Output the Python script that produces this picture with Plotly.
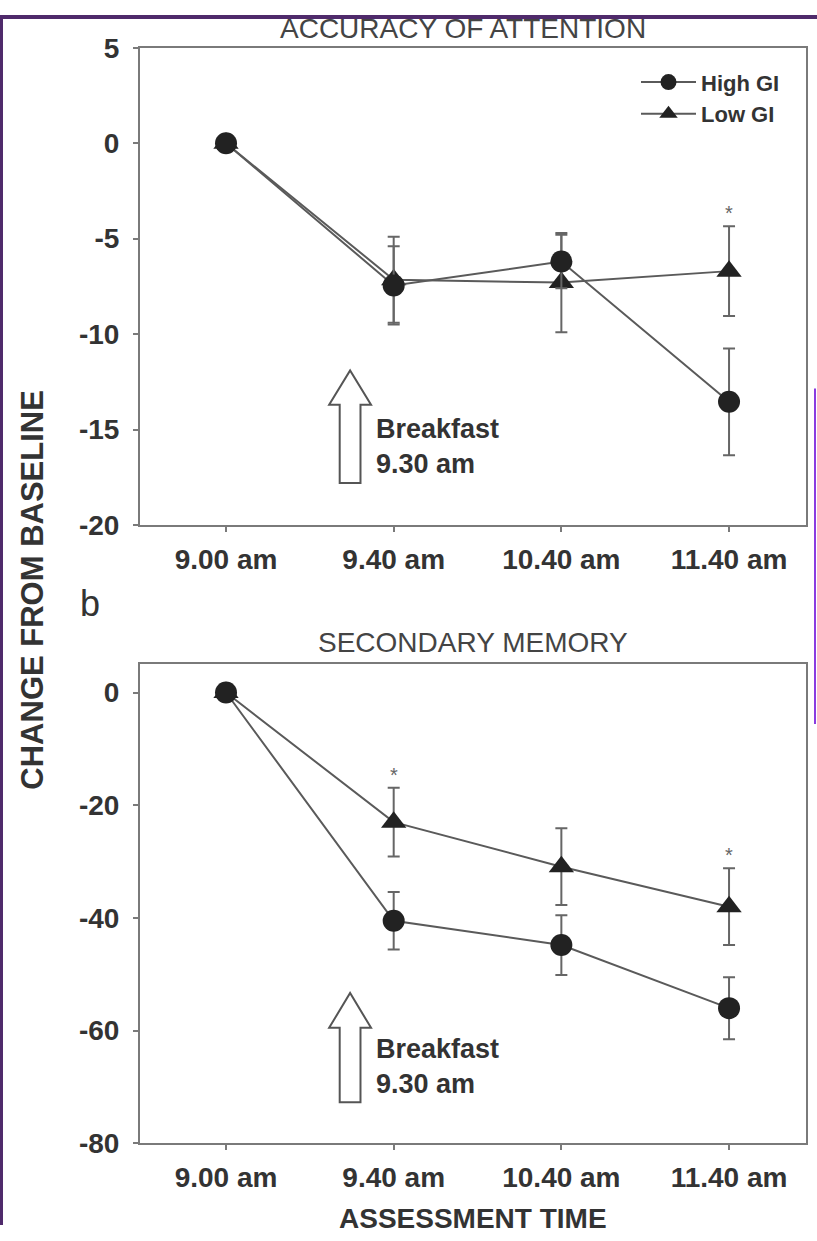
import plotly.graph_objects as go

# ---------------- data ----------------
times = ["9.00 am", "9.40 am", "10.40 am", "11.40 am"]
xpos = [0, 1, 2, 3]

# Panel a: accuracy of attention
att_high = [0, -7.45, -6.2, -13.55]
att_high_err = [0, 2.05, 1.4, 2.8]
att_low = [0, -7.15, -7.3, -6.7]
att_low_err = [0, 2.25, 2.6, 2.35]
att_sig = [False, False, False, True]

# Panel b: secondary memory
mem_high = [0, -40.5, -44.8, -56.0]
mem_high_err = [0, 5.1, 5.3, 5.5]
mem_low = [0, -23.0, -30.9, -38.0]
mem_low_err = [0, 6.1, 6.8, 6.8]
mem_sig = [False, True, False, True]

att_ticks = [5, 0, -5, -10, -15, -20]
att_labels = ["5", "0", "-5", "-10", "-15", "-20"]
mem_ticks = [0, -20, -40, -60, -80]
mem_labels = ["0", "-20", "-40", "-60", "-80"]

W, H = 817, 1241
FONT = "Liberation Sans, Arial, sans-serif"
LINE = "#5a5a5a"
MARK = "#222222"
AXC = "#7a7a7a"


def Y(y):
    """vertical page position -> paper fraction (compensates the capture offset)"""
    return 1 - ((y - 13) / 0.979) / H


fig = go.Figure()

def add_panel(xa, ya, high, high_err, low, low_err, showlegend):
    fig.add_trace(go.Scatter(
        x=xpos, y=low, name="Low GI", mode="lines+markers",
        xaxis=xa, yaxis=ya, legendrank=2, showlegend=showlegend,
        line=dict(color=LINE, width=2),
        marker=dict(symbol="triangle-up", size=22, color=MARK),
        error_y=dict(type="data", array=low_err, color="#666666", thickness=2, width=6),
    ))
    fig.add_trace(go.Scatter(
        x=xpos, y=high, name="High GI", mode="lines+markers",
        xaxis=xa, yaxis=ya, legendrank=1, showlegend=showlegend,
        line=dict(color=LINE, width=2),
        marker=dict(symbol="circle", size=22, color=MARK),
        error_y=dict(type="data", array=high_err, color="#666666", thickness=2, width=6),
    ))

add_panel("x", "y", att_high, att_high_err, att_low, att_low_err, True)
add_panel("x2", "y2", mem_high, mem_high_err, mem_low, mem_low_err, False)

xdom = [140 / W, 806 / W]
ya_dom = [Y(525), Y(46)]
yb_dom = [Y(1146), Y(665)]
xr = [-0.513, 3.459]

tickfont = dict(family=FONT, size=28, color="#333333", weight=700)
common_x = dict(
    domain=xdom, range=xr, tickmode="array", tickvals=xpos, ticktext=times,
    showline=True, linecolor=AXC, linewidth=2, mirror=True,
    ticks="outside", ticklen=5, tickcolor=AXC, tickwidth=2,
    showgrid=False, zeroline=False, tickfont=tickfont, ticklabelstandoff=3,
    fixedrange=True,
)
common_y = dict(
    showline=True, linecolor=AXC, linewidth=2, mirror=True,
    ticks="outside", ticklen=5, tickcolor=AXC, tickwidth=2,
    showgrid=False, zeroline=False, tickfont=tickfont, ticklabelstandoff=8,
    fixedrange=True,
)

fig.update_layout(
    width=W, height=H,
    margin=dict(l=0, r=0, t=0, b=0),
    paper_bgcolor="white", plot_bgcolor="white",
    xaxis=dict(anchor="y", **common_x),
    xaxis2=dict(anchor="y2", **common_x),
    yaxis=dict(domain=ya_dom, range=[-20, 5], tickmode="array", tickvals=att_ticks,
               ticktext=att_labels, anchor="x", **common_y),
    yaxis2=dict(domain=yb_dom, range=[-80, 5], tickmode="array", tickvals=mem_ticks,
                ticktext=mem_labels, anchor="x2", **common_y),
    showlegend=True,
    legend=dict(x=636 / W, y=1 - 47.5 / H, xanchor="left", yanchor="top",
                bgcolor="rgba(0,0,0,0)", font=dict(family=FONT, size=22, color="#333333", weight=700),
                tracegroupgap=0, itemwidth=55),
)

annos = []
def pa(text, x, y, size, weight=400, color="#333333", **kw):
    annos.append(dict(text=text, x=x / W, y=Y(y), xref="paper", yref="paper",
                      xanchor=kw.pop("xanchor", "center"), yanchor=kw.pop("yanchor", "middle"),
                      showarrow=False, font=dict(family=FONT, size=size, color=color, weight=weight), **kw))

pa("ACCURACY OF ATTENTION", 463, 27, 28, color="#444444")
pa("SECONDARY MEMORY", 473, 643, 28, color="#444444")
pa("b", 78, 604, 36, xanchor="left")
pa("ASSESSMENT TIME", 473, 1221, 28, weight=700)
pa("CHANGE FROM BASELINE", 33, 590, 31, weight=700, textangle=-90)

# significance asterisks
for xs, ys, es, sig, xr_, yr_ in [(xpos, att_low, att_low_err, att_sig, "x", "y"),
                                 (xpos, mem_low, mem_low_err, mem_sig, "x2", "y2")]:
    for xi, yi, ei, s in zip(xs, ys, es, sig):
        if s:
            annos.append(dict(text="*", x=xi, y=yi + ei, xref=xr_, yref=yr_, showarrow=False,
                              yanchor="bottom", yshift=0,
                              font=dict(family=FONT, size=20, color="#666666")))

# breakfast labels
annos.append(dict(text="<b>Breakfast<br>9.30 am</b>", x=0.88, y=-15.9, xref="x", yref="y",
                  xanchor="left", yanchor="middle", align="left", showarrow=False,
                  font=dict(family=FONT, size=27, color="#333333")))
annos.append(dict(text="<b>Breakfast<br>9.30 am</b>", x=0.88, y=-66.3, xref="x2", yref="y2",
                  xanchor="left", yanchor="middle", align="left", showarrow=False,
                  font=dict(family=FONT, size=27, color="#333333")))
fig.update_layout(annotations=annos)

# hollow arrows (decoration)
def arrow_path(xc, top, base, bottom, hw, bw):
    return (f"M {xc-bw} {bottom} L {xc-bw} {base} L {xc-hw} {base} L {xc} {top} "
            f"L {xc+hw} {base} L {xc+bw} {base} L {xc+bw} {bottom} Z")

shapes = [
    dict(type="path", xref="x", yref="y", path=arrow_path(0.74, -11.9, -13.7, -17.8, 0.125, 0.062),
         line=dict(color="#555555", width=2), fillcolor="white"),
    dict(type="path", xref="x2", yref="y2", path=arrow_path(0.74, -53.3, -59.5, -72.7, 0.125, 0.062),
         line=dict(color="#555555", width=2), fillcolor="white"),
    # purple page frame remnants
    dict(type="rect", xref="paper", yref="paper", x0=0, x1=1, y0=1 - 4 / H, y1=1,
         line=dict(width=0), fillcolor="#4f2a6b", layer="below"),
    dict(type="rect", xref="paper", yref="paper", x0=0, x1=3 / W, y0=0, y1=1,
         line=dict(width=0), fillcolor="#4f2a6b", layer="below"),
    dict(type="line", xref="paper", yref="paper", x0=815 / W, x1=815 / W, y0=Y(725), y1=Y(388),
         line=dict(color="#8a3ce0", width=2), layer="below"),
]
fig.update_layout(shapes=shapes)

fig.write_html("out.html")
